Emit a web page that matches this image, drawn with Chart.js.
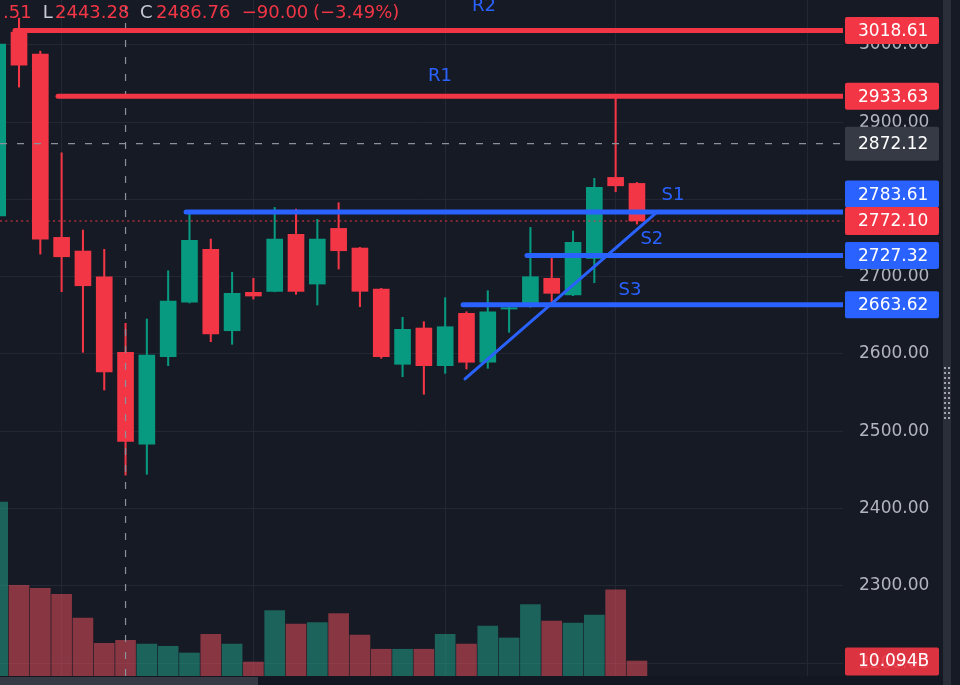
<!DOCTYPE html>
<html>
<head>
<meta charset="utf-8">
<script src="https://cdn.jsdelivr.net/npm/chart.js@4.4.0/dist/chart.umd.min.js"></script>
<style>
  html, body { margin: 0; padding: 0; background: #161a25; }
  #wrap { width: 960px; height: 685px; }
  canvas { display: block; }
</style>
</head>
<body>
<div id="wrap"><canvas id="chart" width="960" height="685"></canvas></div>
<script>
// Kerzen (Tagesindex), Werte
const dayIndex = [0,1,2,3,4,5,6,7,8,9,10,11,12,13,14,15,16,17,18,19,20,21,22,23,24,25,26,27,28,29,30];
const opens  = [2778.5,3016.4,2987.9,2750.9,2733.2,2700.0,2602.2,2483.2,2596.5,2666.9,2735.4,2630.1,2679.8,2681.1,2754.8,2690.5,2762.5,2737.1,2684.1,2586.7,2633.6,2584.9,2652.6,2589.3,2658.2,2661.2,2697.9,2676.3,2723.8,2828.5,2820.7];
const highs  = [3010.0,3034.5,2991.8,2860.3,2760.4,2735.4,2639.7,2645.3,2707.7,2784.9,2748.7,2705.7,2697.9,2789.6,2787.5,2774.2,2795.7,2738.0,2685.0,2647.5,2641.8,2672.8,2654.7,2681.9,2662.1,2763.8,2727.1,2759.1,2827.2,2933.63,2822.0];
const lows   = [2770.0,2945.3,2729.3,2680.6,2602.2,2553.4,2443.28,2444.4,2584.9,2666.0,2615.9,2612.5,2671.1,2680.5,2677.2,2663.4,2709.9,2661.2,2594.4,2570.6,2547.9,2575.0,2580.6,2581.5,2628.1,2660.5,2666.9,2675.5,2692.2,2809.9,2768.1];
const closes = [3001.0,2973.7,2748.7,2725.8,2688.3,2576.76,2486.76,2598.7,2668.5,2747.0,2625.9,2678.5,2675.0,2748.7,2681.1,2748.7,2733.6,2681.1,2596.5,2631.9,2584.9,2635.3,2589.3,2654.7,2659.9,2700.0,2678.5,2744.4,2815.6,2817.6,2772.10];
// Volumen in Milliarden
const volumes = [117,61,59,55,39,22,24,21.5,20,15.5,28,21.5,9.4,44,35,36,42,27.6,18,18,18,28,21.5,33.6,25.6,48,37,35.7,41,58,10.094];

// Unterstuetzung / Widerstand
const levelNames  = ['R2','R1','S1','S2','S3'];
const levelValues = [3018.61, 2933.63, 2783.61, 2727.32, 2663.62];
const levelFrom   = [0.81, 2.83, 8.84, 24.84, 21.84];
const trendX = [21.93, 30.94];
const trendY = [2567.7, 2783.6];

const priceTicks = [2200,2300,2400,2500,2600,2700,2800,2900,3000];
const timeGrid = [3,12,21,29,38];
const crossIndex = 6;
const crossPrice = 2872.12;
const lastPrice = 2772.10;
const lastVolumeLabel = '10.094B';
const headerTexts = ['.51','L','2443.28','C','2486.76','\u221290.00','(\u22123.49%)'];

// Achsenbereich
const X_MIN = 0.108, X_MAX = 39.67;
const Y_MIN = 2183.4, Y_MAX = 3058;
const VOL_MAX = 455;

const RED = '#f23645', GREEN = '#089981', BLUE = '#2962ff';
const FONT = '"DejaVu Sans", sans-serif';

const up = dayIndex.map(i => closes[i] >= opens[i]);
const candleColors = up.map(u => u ? GREEN : RED);
const volColors = up.map(u => u ? 'rgba(34,171,148,0.5)' : 'rgba(247,82,95,0.5)');
const levelColors = [RED, RED, BLUE, BLUE, BLUE];

// Datensaetze
const datasets = [];
datasets.push({
    type: 'bar', label: 'vol', yAxisID: 'vol', order: 10, grouped: false,
    data: dayIndex.map(i => ({ x: i, y: volumes[i] })),
    backgroundColor: volColors, barThickness: 20, borderWidth: 0
});
datasets.push({
    type: 'bar', label: 'wick', yAxisID: 'y', order: 9, grouped: false,
    data: dayIndex.map(i => ({ x: i, y: [lows[i], highs[i]] })),
    backgroundColor: candleColors, barThickness: 1.4, borderWidth: 0
});
datasets.push({
    type: 'bar', label: 'body', yAxisID: 'y', order: 8, grouped: false,
    data: dayIndex.map(i => ({ x: i, y: [opens[i], closes[i]] })),
    backgroundColor: candleColors, barThickness: 16, borderWidth: 0
});
// Fadenkreuz
datasets.push({
    type: 'line', yAxisID: 'y', order: 5, clip: 0,
    data: [{ x: crossIndex, y: Y_MIN }, { x: crossIndex, y: Y_MAX }],
    borderColor: '#8c909c', borderWidth: 1.2, borderDash: [7, 10], pointRadius: 0
});
datasets.push({
    type: 'line', yAxisID: 'y', order: 5, clip: 0,
    data: [{ x: X_MIN, y: crossPrice }, { x: X_MAX, y: crossPrice }],
    borderColor: '#8c909c', borderWidth: 1.2, borderDash: [7, 10], pointRadius: 0
});
// aktueller Kurs
datasets.push({
    type: 'line', yAxisID: 'y', order: 4, clip: 0,
    data: [{ x: X_MIN, y: lastPrice }, { x: X_MAX, y: lastPrice }],
    borderColor: RED, borderWidth: 1.2, borderDash: [2, 3.3], pointRadius: 0
});
levelNames.forEach((name, k) => {
    datasets.push({
        type: 'line', label: name, yAxisID: 'y', order: 3, clip: 0,
        data: [{ x: levelFrom[k], y: levelValues[k] }, { x: X_MAX + 1, y: levelValues[k] }],
        borderColor: levelColors[k], borderWidth: 5, borderCapStyle: 'round', pointRadius: 0
    });
});
datasets.push({
    type: 'line', yAxisID: 'y', order: 2, clip: 0,
    data: [{ x: trendX[0], y: trendY[0] }, { x: trendX[1], y: trendY[1] }],
    borderColor: BLUE, borderWidth: 3, borderCapStyle: 'round', pointRadius: 0
});

function roundRect(c, x, y, w, h, r) {
    c.beginPath();
    c.moveTo(x + r, y);
    c.lineTo(x + w - r, y); c.quadraticCurveTo(x + w, y, x + w, y + r);
    c.lineTo(x + w, y + h - r); c.quadraticCurveTo(x + w, y + h, x + w - r, y + h);
    c.lineTo(x + r, y + h); c.quadraticCurveTo(x, y + h, x, y + h - r);
    c.lineTo(x, y + r); c.quadraticCurveTo(x, y, x + r, y);
    c.closePath();
    c.fill();
}

// kein Rand fuer Achsenbeschriftung
function noPad(s) {
    s.paddingTop = 0; s.paddingBottom = 0; s.paddingLeft = 0; s.paddingRight = 0;
}

// Beschriftungen, Preisschilder, Kopfzeile
const labelPos = { x: [22.82, 20.76, 31.69, 30.70, 29.67], dy: [-24, -20, -17, -16, -14] };
const headerX = [3, 42.7, 55, 140, 156, 241.7, 313];
const headerCol = [RED, '#c8cbd3', RED, '#c8cbd3', RED, RED, RED];

const overlay = {
    id: 'overlay',
    beforeDraw(chart) {
        const c = chart.ctx;
        c.save();
        c.fillStyle = '#161a25';
        c.fillRect(0, 0, chart.width, chart.height);
        c.restore();
    },
    afterDatasetsDraw(chart) {
        const c = chart.ctx, xs = chart.scales.x, ys = chart.scales.y;
        c.save();
        c.font = '18px ' + FONT;
        c.fillStyle = BLUE;
        c.textAlign = 'center';
        c.textBaseline = 'middle';
        levelNames.forEach((name, k) => {
            c.fillText(name, xs.getPixelForValue(labelPos.x[k]), ys.getPixelForValue(levelValues[k]) + labelPos.dy[k]);
        });
        c.restore();
    },
    afterDraw(chart) {
        const c = chart.ctx, ys = chart.scales.y, vs = chart.scales.vol;
        c.save();
        // untere Leiste
        c.fillStyle = '#131722';
        c.fillRect(0, 676, 943, 9);
        c.fillStyle = '#363a45';
        c.fillRect(0, 677, 258, 8);
        // Scrollleiste rechts
        c.fillStyle = '#2a2e39';
        c.fillRect(943, 0, 8, 685);
        c.fillStyle = '#a3a6af';
        for (let r = 0; r < 11; r++) {
            c.fillRect(944, 367 + r * 5, 2, 2);
            c.fillRect(948, 367 + r * 5, 2, 2);
        }
        // Preisschilder
        const boxes = [];
        levelValues.forEach((v, k) => boxes.push({ v: v, col: levelColors[k], dy: k === 2 ? -18 : 0, h: 27 }));
        boxes.push({ v: crossPrice, col: '#363a45', dy: 0, h: 34 });
        boxes.push({ v: lastPrice, col: RED, dy: 0, h: 28 });
        c.font = '17px ' + FONT;
        c.textBaseline = 'middle';
        c.textAlign = 'left';
        boxes.forEach(b => {
            const yc = ys.getPixelForValue(b.v) + b.dy;
            c.fillStyle = b.col;
            roundRect(c, 845, yc - b.h / 2, 94, b.h, 2);
            c.fillStyle = '#ffffff';
            c.fillText(b.v.toFixed(2), 858, yc + 1);
        });
        const vy = vs.getPixelForValue(volumes[volumes.length - 1]);
        c.fillStyle = RED;
        c.globalAlpha = 0.9;
        roundRect(c, 845, vy - 13.5, 94, 28, 2);
        c.globalAlpha = 1;
        c.fillStyle = '#ffffff';
        c.fillText(lastVolumeLabel, 858, vy + 1);
        // Kopfzeile
        c.font = '18px ' + FONT;
        c.textBaseline = 'alphabetic';
        headerTexts.forEach((t, k) => {
            c.fillStyle = headerCol[k];
            c.fillText(t, headerX[k], 18);
        });
        c.restore();
    }
};

new Chart(document.getElementById('chart'), {
    type: 'bar',
    data: { datasets: datasets },
    options: {
        responsive: false,
        animation: false,
        layout: { padding: 0 },
        plugins: { legend: { display: false }, tooltip: { enabled: false } },
        scales: {
            x: {
                type: 'linear', min: X_MIN, max: X_MAX, offset: false,
                afterBuildTicks: s => { s.ticks = timeGrid.map(v => ({ value: v })); },
                afterFit: s => { s.height = 9; noPad(s); },
                ticks: { display: false },
                grid: { color: '#232734', drawTicks: false, offset: false },
                border: { display: false }
            },
            y: {
                type: 'linear', position: 'right', min: Y_MIN, max: Y_MAX,
                afterBuildTicks: s => { s.ticks = priceTicks.map(v => ({ value: v })); },
                afterFit: s => { s.width = 117; noPad(s); },
                ticks: {
                    color: '#b2b5be', padding: 16, autoSkip: false,
                    font: { family: FONT, size: 17 },
                    callback: v => Number(v).toFixed(2)
                },
                grid: { color: '#232734', drawTicks: false },
                border: { display: false }
            },
            vol: {
                type: 'linear', display: false, min: 0, max: VOL_MAX
            }
        }
    },
    plugins: [overlay]
});
</script>
</body>
</html>
